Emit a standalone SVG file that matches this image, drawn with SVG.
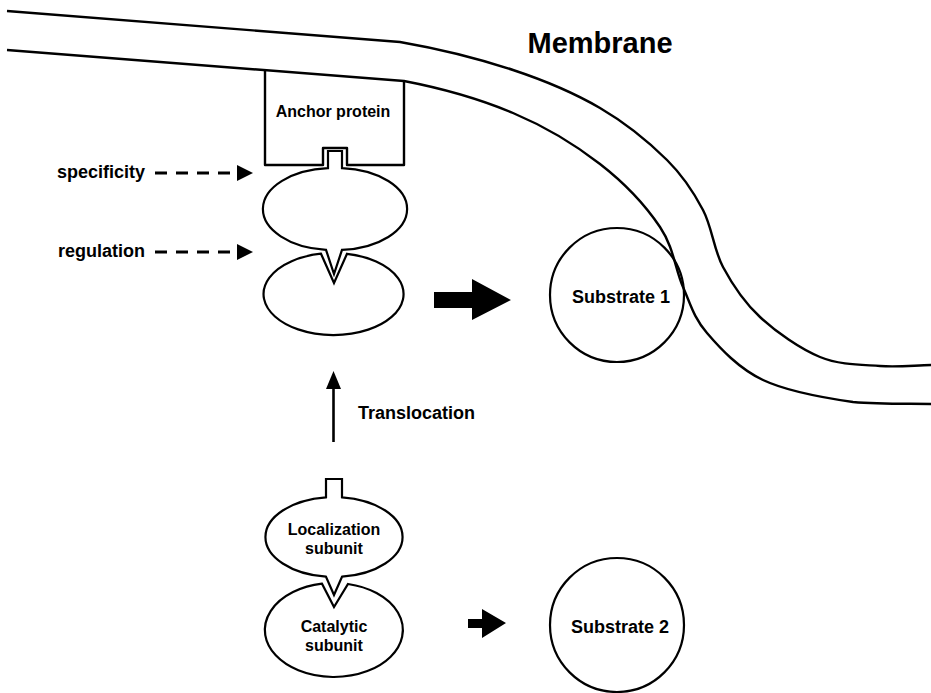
<svg xmlns="http://www.w3.org/2000/svg" width="931" height="693" viewBox="0 0 931 693">
<style>
  .ln{fill:none;stroke:#000;stroke-width:2.4;stroke-linejoin:round}
  .sh{fill:#fff;stroke:#000;stroke-width:2.2;stroke-linejoin:miter}
  .t{font-family:"Liberation Sans",Arial,sans-serif;font-weight:bold;fill:#000}
  .c{text-anchor:middle}
  .dash{fill:none;stroke:#000;stroke-width:3;stroke-dasharray:12 9}
  .head{fill:#000;stroke:none}
</style>
<rect width="931" height="693" fill="#fff"/>

<g id="membrane">
  <path class="ln" d="M7 11 L400 42 C435.5 48.2 479.7 59 513 70 C546.3 81 574.3 93 600 108 C625.7 123 649.8 143 667 160 C684.2 177 693.7 192.2 703 210 C712.3 227.8 713.5 249.2 723 267 C732.5 284.8 743.8 302 760 317 C776.2 332 800 348.8 820 357 C840 365.2 861.5 364.7 880 366 C898.5 367.3 914.3 365.3 931 365"/>
  <path class="ln" d="M7 50 L404 81 C438.8 87.7 480.3 99.2 513 113 C545.7 126.8 575.5 145 600 164 C624.5 183 646.2 206.5 660 227 C673.8 247.5 675.2 269.3 683 287 C690.8 304.7 693.7 317.5 707 333 C720.3 348.5 738.7 368.5 763 380 C787.3 391.5 825 398 853 402 C881 404.5 909.8 403.5 931 404"/>
  <text class="t c" x="600" y="53" font-size="29">Membrane</text>
</g>

<g id="anchor-protein">
  <path class="ln" d="M265 70 L265 165 L323 165 L323 148 L347 148 L347 165 L404 165 L404 81"/>
  <text class="t c" x="333" y="117" font-size="16">Anchor protein</text>
</g>

<g id="bound-localization-subunit">
  <path class="sh" d="M328 168.1 L328 151 L342 151 L342 168.1 A70 41 0 0 1 342 249.9 L334 274 L326 249.8 A70 41 0 0 1 328 168.1 Z"/>
</g>

<g id="bound-catalytic-subunit">
  <path class="sh" d="M347 253.8 A70 41 0 1 1 321 253.7 L334 283 Z"/>
</g>

<g id="substrate-1">
  <circle class="sh" cx="617" cy="295" r="67" style="fill:none"/>
  <text class="t c" x="621" y="303" font-size="18">Substrate 1</text>
</g>

<g id="localization-subunit">
  <path class="sh" d="M326 497.3 L326 479 L342 479 L342 497.3 A69 40 0 0 1 342 576.7 L334 595 L326 576.7 A69 40 0 0 1 326 497.3 Z"/>
  <text class="t c" x="334" y="535" font-size="16">Localization</text>
  <text class="t c" x="334" y="554" font-size="16">subunit</text>
</g>

<g id="catalytic-subunit">
  <path class="sh" d="M348 584 A69 47 0 1 1 322 583.7 L334 607 Z"/>
  <text class="t c" x="334" y="632" font-size="16">Catalytic</text>
  <text class="t c" x="334" y="651" font-size="16">subunit</text>
</g>

<g id="substrate-2">
  <circle class="sh" cx="617" cy="625" r="67"/>
  <text class="t c" x="620" y="633" font-size="18">Substrate 2</text>
</g>

<g id="labels">
  <text class="t" x="145" y="178" font-size="18" text-anchor="end">specificity</text>
  <text class="t" x="145" y="257" font-size="18" text-anchor="end">regulation</text>
  <text class="t" x="358" y="419" font-size="18">Translocation</text>
</g>

<g id="connectors">
  <line class="dash" x1="155" y1="173" x2="234" y2="173"/>
  <polygon class="head" points="237,165 253,173 237,181"/>
  <line class="dash" x1="155" y1="252" x2="234" y2="252"/>
  <polygon class="head" points="237,244 253,252 237,260"/>
  <line x1="333.5" y1="442" x2="333.5" y2="386" stroke="#000" stroke-width="2.6"/>
  <polygon class="head" points="326,389 341,389 333.5,371"/>
  <polygon class="head" points="434,292 472,292 472,279 511,300 472,320 472,308 434,308"/>
  <polygon class="head" points="468,619 482,619 482,609 506,623 482,638 482,628 468,628"/>
</g>
</svg>
